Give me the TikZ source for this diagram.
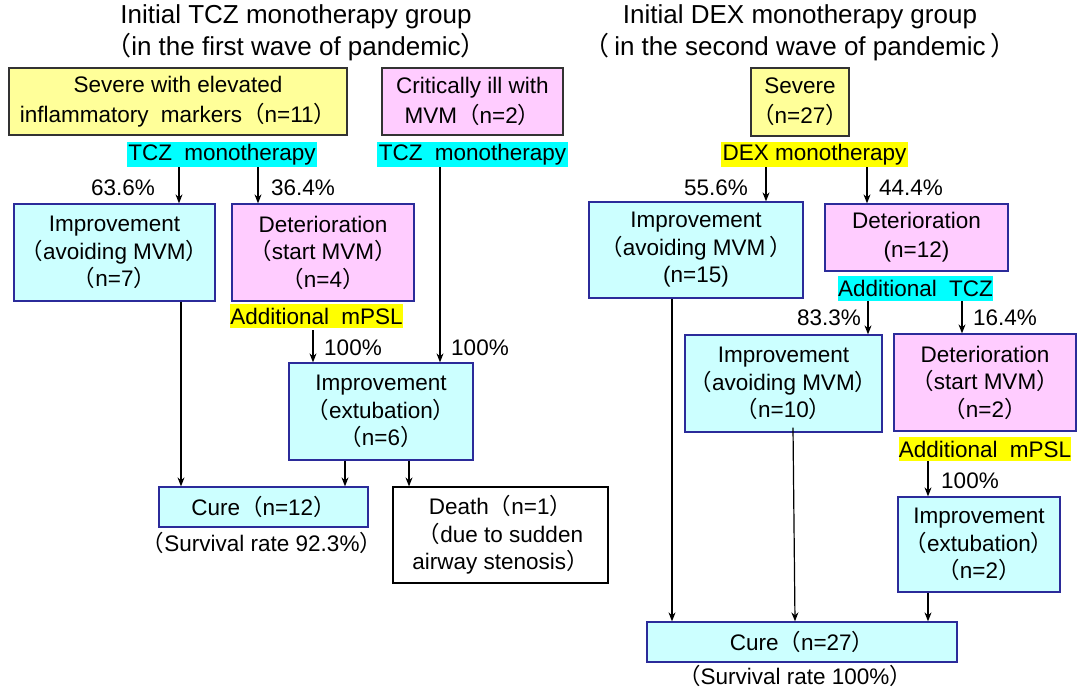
\documentclass[tikz,border=0pt]{standalone}
\usepackage{fontspec}
\setmainfont{Liberation Sans}
\newfontfamily\cjk{Noto Sans CJK JP}
\usetikzlibrary{arrows.meta}
\newcommand\lp{{\cjk （}}
\newcommand\rp{{\cjk ）}}
\newcommand\wsp{\hspace{0.55em}}
\definecolor{boxyellow}{HTML}{FFFF99}
\definecolor{boxpink}{HTML}{FFCCFF}
\definecolor{boxcyan}{HTML}{CCFFFF}
\definecolor{hcyan}{HTML}{00FFFF}
\definecolor{hyellow}{HTML}{FFFF00}
\definecolor{bordergray}{HTML}{333333}
\definecolor{bordernavy}{HTML}{2B2B9A}
\tikzset{
  base/.style={inner sep=0pt, align=center, font=\fontsize{22.5}{27.5}\selectfont},
  ybox/.style={base, draw=bordergray, fill=boxyellow, line width=1.2pt},
  pbox/.style={base, draw=bordergray, fill=boxpink, line width=1.2pt},
  cbox/.style={base, draw=bordernavy, fill=boxcyan, line width=1.3pt},
  pnbox/.style={base, draw=bordernavy, fill=boxpink, line width=1.3pt},
  wbox/.style={base, draw=black, fill=white, line width=1.2pt},
  hc/.style={base, fill=hcyan, minimum height=25pt},
  hy/.style={base, fill=hyellow, minimum height=24pt},
  lab/.style={base},
  ttl/.style={inner sep=0pt, align=center, font=\fontsize{26}{32}\selectfont},
  arr/.style={-{Stealth[length=9pt,width=7pt]}, line width=1.2pt, draw=black}
}
\begin{document}
\begin{tikzpicture}[x=1pt,y=-1pt]
\useasboundingbox (0,0) rectangle (1084,689);
\fill[white] (0,0) rectangle (1084,689);

% ---------- Left group ----------
\node[ttl] (tl) at (296,33) {Initial TCZ monotherapy group\\\lp in the first wave of pandemic\rp};

\node[ybox, minimum width=338pt, minimum height=67pt, font=\fontsize{22.5}{30}\selectfont] (b1) at (178,101.5)
  {Severe with elevated\\inflammatory\wsp markers\lp n=11\rp};
\node[pbox, minimum width=181pt, minimum height=67pt, font=\fontsize{22.5}{30}\selectfont] (b2) at (472.5,101.5)
  {Critically ill with\\MVM\lp n=2\rp};

\node[hc, minimum width=190pt] (h1) at (222,154.5) {TCZ\wsp monotherapy};
\node[hc, minimum width=191pt] (h2) at (472.5,154.5) {TCZ\wsp monotherapy};

\node[cbox, minimum width=201pt, minimum height=97pt] (b3) at (114.5,252.5)
  {Improvement\\\lp avoiding MVM\rp\\\lp n=7\rp};
\node[pnbox, minimum width=182pt, minimum height=97pt] (b4) at (323,252.5)
  {Deterioration\\\lp start MVM\rp\\\lp n=4\rp};

\node[hy, minimum width=169pt] (h3) at (316.5,316) {Additional\wsp mPSL};

\node[cbox, minimum width=184pt, minimum height=97pt] (b5) at (381,411.5)
  {Improvement\\\lp extubation\rp\\\lp n=6\rp};

\node[cbox, minimum width=209pt, minimum height=40pt] (b6) at (263.5,507) {Cure\lp n=12\rp};
\node[lab] (s1) at (262,543) {\lp Survival rate 92.3\%\rp};

\node[wbox, minimum width=215pt, minimum height=96pt] (b7) at (500.5,535)
  {Death\lp n=1\rp\\\lp due to sudden\\airway stenosis\rp};

\node[lab] (p1) at (123,188) {63.6\%};
\node[lab] (p2) at (303,188) {36.4\%};
\node[lab] (p3) at (353,348) {100\%};
\node[lab] (p4) at (480,348) {100\%};

\draw[arr] ([xshift=-43pt]h1.south) -- ([xshift=64.5pt]b3.north);
\draw[arr] ([xshift=36pt]h1.south) -- ([xshift=-65pt]b4.north);
\draw[arr] ([xshift=-32.5pt]h2.south) -- ([xshift=59pt]b5.north);
\draw[arr] ([xshift=-3.5pt,yshift=-2pt]h3.south) -- ([xshift=-68pt]b5.north);
\draw[arr] ([xshift=66.5pt]b3.south) -- ([xshift=-82.5pt]b6.north);
\draw[arr] ([xshift=-36pt]b5.south) -- ([xshift=81.5pt]b6.north);
\draw[arr] ([xshift=28pt]b5.south) -- ([xshift=-91.5pt]b7.north);

% ---------- Right group ----------
\node[ttl] (tr) at (800,33) {Initial DEX monotherapy group\\\lp\,in the second wave of pandemic\,\rp};

\node[ybox, minimum width=98pt, minimum height=68pt, font=\fontsize{22.5}{30}\selectfont] (b8) at (800,102)
  {Severe\\\lp n=27\rp};
\node[hy, minimum width=187pt, minimum height=25pt] (h4) at (814.5,154.5) {DEX monotherapy};

\node[cbox, minimum width=214pt, minimum height=96pt] (b9) at (696,250)
  {Improvement\\\lp avoiding MVM\,\rp\\(n=15)};
\node[pnbox, minimum width=183pt, minimum height=67pt, font=\fontsize{22.5}{29}\selectfont] (b10) at (916.5,237.5)
  {Deterioration\\(n=12)};

\node[hc, minimum width=153pt] (h5) at (915.5,288.5) {Additional\wsp TCZ};

\node[cbox, minimum width=197pt, minimum height=97pt] (b11) at (783.5,383.5)
  {Improvement\\\lp avoiding MVM\rp\\\lp n=10\rp};
\node[pnbox, minimum width=182pt, minimum height=97pt] (b12) at (985,382.5)
  {Deterioration\\\lp start MVM\rp\\\lp n=2\rp};

\node[hy, minimum width=170pt] (h6) at (985,449) {Additional\wsp mPSL};

\node[cbox, minimum width=162pt, minimum height=95pt] (b13) at (979,544.5)
  {Improvement\\\lp extubation\rp\\\lp n=2\rp};

\node[cbox, minimum width=310pt, minimum height=40pt] (b14) at (802,642) {Cure\lp n=27\rp};
\node[lab] (s2) at (795,675.5) {\lp Survival rate 100\%\rp};

\node[lab] (p5) at (716,188) {55.6\%};
\node[lab] (p6) at (911,188) {44.4\%};
\node[lab] (p7) at (829,318) {83.3\%};
\node[lab] (p8) at (1005,318) {16.4\%};
\node[lab] (p9) at (970,481) {100\%};

\draw[arr] ([xshift=-48.5pt]h4.south) -- ([xshift=70pt]b9.north);
\draw[arr] ([xshift=52.5pt]h4.south) -- ([xshift=-49.5pt]b10.north);
\draw[arr] ([xshift=-47.5pt]h5.south) -- ([xshift=84.5pt]b11.north);
\draw[arr] ([xshift=46.5pt]h5.south) -- ([xshift=-23pt]b12.north);
\draw[arr] ([xshift=-57pt]h6.south) -- ([xshift=-51pt]b13.north);
\draw[arr] ([xshift=-51pt]b13.south) -- ([xshift=126pt]b14.north);
\draw[arr] ([xshift=-24pt]b9.south) -- ([xshift=-130pt]b14.north);
\draw[arr] ([xshift=9.5pt,yshift=5pt]b11.south) -- ([xshift=-7pt]b14.north);
\end{tikzpicture}
\end{document}
